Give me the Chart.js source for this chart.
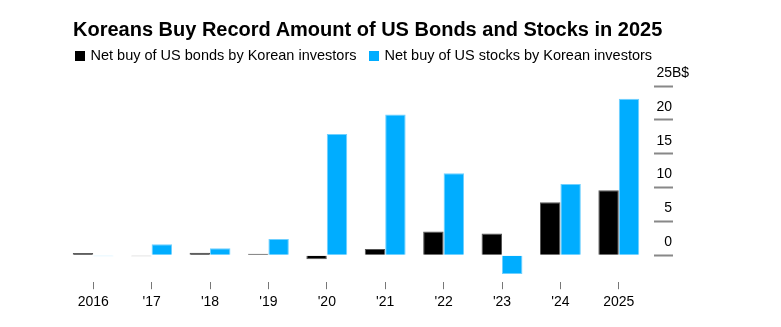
<!DOCTYPE html>
<html>
<head>
<meta charset="utf-8">
<script src="https://cdn.jsdelivr.net/npm/chart.js@4.4.1/dist/chart.umd.min.js"></script>
<style>
  html, body { margin: 0; padding: 0; background: #fff; }
  #wrap { position: relative; width: 781px; height: 327px; font-family: "Liberation Sans", Arial, sans-serif; color: #000; }
  #title { position: absolute; left: 73px; top: 19px; font-size: 20px; line-height: 20px; font-weight: bold; white-space: nowrap; }
  .leg { position: absolute; top: 48px; font-size: 14.5px; line-height: 14.5px; white-space: nowrap; }
  .leg i { position: absolute; left: 0; top: 3px; width: 10px; height: 10px; }
  .leg span { margin-left: 15.5px; }
  canvas { position: absolute; left: 0; top: 0; }
</style>
</head>
<body>
<div id="wrap">
  <canvas id="chart" width="781" height="327"></canvas>
  <div id="title">Koreans Buy Record Amount of US Bonds and Stocks in 2025</div>
  <div class="leg" style="left:75px"><i style="background:#000"></i><span>Net buy of US bonds by Korean investors</span></div>
  <div class="leg" style="left:369px"><i style="background:#00adff"></i><span>Net buy of US stocks by Korean investors</span></div>
</div>
<script>
// values in billions of US dollars
const years = ["2016", "'17", "'18", "'19", "'20", "'21", "'22", "'23", "'24", "2025"];
const bondsNet = [0.3, -0.15, 0.35, 0.2, -0.6, 0.9, 3.5, 3.2, 7.8, 9.6];
const stocksNet = [-0.15, 1.6, 1.0, 2.4, 17.9, 20.8, 12.1, -2.8, 10.5, 23.1];
const yTicks = [0, 5, 10, 15, 20, 25];
const yUnit = "B$";

const FONT = '"Liberation Sans", Arial, sans-serif';

// y labels sit above their tick marks, right aligned, unit after the top one
const yLabels = {
  id: "yLabels",
  afterDraw(chart) {
    const s = chart.scales.y;
    const c = chart.ctx;
    c.save();
    c.font = "14px " + FONT;
    c.fillStyle = "#000";
    c.textBaseline = "alphabetic";
    const x = s.left + 24;
    s.ticks.forEach(t => {
      const y = s.getPixelForValue(t.value) - 9;
      c.textAlign = "right";
      c.fillText(String(t.value), x, y);
      if (t.value === yTicks[yTicks.length - 1]) {
        c.textAlign = "left";
        c.fillText(yUnit, x, y);
      }
    });
    c.restore();
  }
};

new Chart(document.getElementById("chart"), {
  type: "bar",
  data: {
    labels: years,
    datasets: [
      {
        label: "Net buy of US bonds by Korean investors",
        data: bondsNet,
        backgroundColor: "#000",
        borderColor: "#555",
        borderWidth: 1,
        categoryPercentage: 0.7,
        barPercentage: 1.0
      },
      {
        label: "Net buy of US stocks by Korean investors",
        data: stocksNet,
        backgroundColor: "#00adff",
        borderColor: "#6fd0ff",
        borderWidth: 1,
        categoryPercentage: 0.7,
        barPercentage: 1.0
      }
    ]
  },
  options: {
    responsive: false,
    animation: false,
    layout: { padding: { left: 64, right: 108, top: 86, bottom: 11 } },
    plugins: {
      legend: { display: false },
      tooltip: { enabled: false }
    },
    scales: {
      x: {
        offset: true,
        grid: {
          offset: false,
          drawOnChartArea: false,
          drawTicks: true,
          tickLength: 7,
          tickColor: "#777",
          tickWidth: 1
        },
        border: { display: false },
        ticks: {
          color: "#000",
          font: { size: 14, family: FONT },
          padding: 5,
          maxRotation: 0,
          autoSkip: false
        }
      },
      y: {
        position: "right",
        min: -4,
        max: 25,
        afterBuildTicks: s => { s.ticks = yTicks.map(v => ({ value: v })); },
        grid: {
          drawOnChartArea: false,
          drawTicks: true,
          tickLength: 25,
          tickColor: "#888",
          tickWidth: 2,
          tickBorderDash: [0, 6, 19, 100]
        },
        border: { display: false },
        ticks: { display: false }
      }
    }
  },
  plugins: [yLabels]
});
</script>
</body>
</html>
